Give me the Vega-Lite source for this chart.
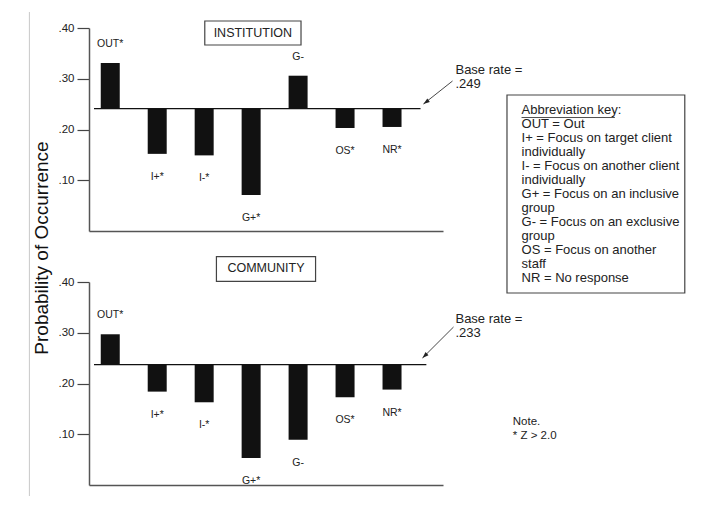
{
  "$schema": "https://vega.github.io/schema/vega-lite/v6.json",
  "padding": {"left": 28, "top": 11, "right": 2, "bottom": 2},
  "bounds": "flush",
  "spacing": 51,
  "config": {
    "font": "Liberation Sans",
    "view": {"stroke": null},
    "axis": {"grid": false},
    "text": {"color": "#222"}
  },
  "datasets": {
    "bars": [
      {"setting": "INSTITUTION", "order": 1, "label": "OUT*", "value": 0.331, "base": 0.241},
      {"setting": "INSTITUTION", "order": 2, "label": "I+*", "value": 0.152, "base": 0.241},
      {"setting": "INSTITUTION", "order": 3, "label": "I-*", "value": 0.149, "base": 0.241},
      {"setting": "INSTITUTION", "order": 4, "label": "G+*", "value": 0.071, "base": 0.241},
      {"setting": "INSTITUTION", "order": 5, "label": "G-", "value": 0.306, "base": 0.241},
      {"setting": "INSTITUTION", "order": 6, "label": "OS*", "value": 0.203, "base": 0.241},
      {"setting": "INSTITUTION", "order": 7, "label": "NR*", "value": 0.205, "base": 0.241},
      {"setting": "COMMUNITY", "order": 1, "label": "OUT*", "value": 0.297, "base": 0.237},
      {"setting": "COMMUNITY", "order": 2, "label": "I+*", "value": 0.184, "base": 0.237},
      {"setting": "COMMUNITY", "order": 3, "label": "I-*", "value": 0.163, "base": 0.237},
      {"setting": "COMMUNITY", "order": 4, "label": "G+*", "value": 0.053, "base": 0.237},
      {"setting": "COMMUNITY", "order": 5, "label": "G-", "value": 0.089, "base": 0.237},
      {"setting": "COMMUNITY", "order": 6, "label": "OS*", "value": 0.173, "base": 0.237},
      {"setting": "COMMUNITY", "order": 7, "label": "NR*", "value": 0.188, "base": 0.237}
    ],
    "baselines": [
      {"setting": "INSTITUTION", "rate": 0.241, "note": "Base rate =\n.249"},
      {"setting": "COMMUNITY", "rate": 0.237, "note": "Base rate =\n.233"}
    ]
  },
  "vconcat": [
    {
      "width": 354,
      "height": 203,
      "layer": [
        {
          "data": {"name": "bars"},
          "transform": [{"filter": "datum.setting === 'INSTITUTION'"}],
          "mark": {"type": "bar", "width": 19, "color": "#111"},
          "encoding": {
            "x": {"field": "order", "type": "quantitative",
              "scale": {"domain": [0.654, 7.979], "nice": false, "zero": false},
              "axis": {"title": null, "ticks": false, "labels": false, "domain": true, "domainColor": "#555", "domainWidth": 1.5}},
            "y": {"field": "value", "type": "quantitative",
              "scale": {"domain": [0, 0.4], "nice": false, "zero": false},
              "axis": {"title": null, "values": [0.1, 0.2, 0.3, 0.4], "format": ".2f", "labelExpr": "replace(datum.label, '0.', '.')",
                "tickSize": 12, "tickColor": "#444", "tickWidth": 1.2, "domainColor": "#555", "domainWidth": 1.5,
                "labelFontSize": 11.5, "labelColor": "#222", "labelPadding": 3}},
            "y2": {"field": "base"}
          }
        },
        {
          "data": {"name": "bars"},
          "transform": [{"filter": "datum.setting === 'INSTITUTION' && datum.value > datum.base"}],
          "mark": {"type": "text", "dy": -19, "fontSize": 10.5, "baseline": "middle"},
          "encoding": {
            "x": {"field": "order", "type": "quantitative"},
            "y": {"field": "value", "type": "quantitative"},
            "text": {"field": "label"}
          }
        },
        {
          "data": {"name": "bars"},
          "transform": [{"filter": "datum.setting === 'INSTITUTION' && datum.value < datum.base"}],
          "mark": {"type": "text", "dy": 23, "fontSize": 10.5, "baseline": "middle"},
          "encoding": {
            "x": {"field": "order", "type": "quantitative"},
            "y": {"field": "value", "type": "quantitative"},
            "text": {"field": "label"}
          }
        },
        {
          "data": {"name": "baselines"},
          "transform": [{"filter": "datum.setting === 'INSTITUTION'"}],
          "mark": {"type": "rule", "color": "#111", "strokeWidth": 1.2},
          "encoding": {
            "x": {"datum": 0.654},
            "x2": {"datum": 7.607},
            "y": {"field": "rate", "type": "quantitative"}
          }
        },
        {
          "data": {"name": "baselines"},
          "transform": [{"filter": "datum.setting === 'INSTITUTION'"}],
          "mark": {"type": "text", "lineBreak": "\n", "fontSize": 13, "lineHeight": 14, "align": "left", "baseline": "alphabetic"},
          "encoding": {
            "x": {"datum": 8.351},
            "y": {"datum": 0.3094},
            "text": {"field": "note"}
          }
        },
        {
          "data": {"values": [{}]},
          "mark": {"type": "rule", "color": "#333", "strokeWidth": 0.9},
          "encoding": {
            "x": {"datum": 8.289}, "y": {"datum": 0.2956},
            "x2": {"datum": 7.669}, "y2": {"datum": 0.2502}
          }
        },
        {
          "data": {"values": [{}]},
          "mark": {"type": "point", "shape": "M0,0L-0.6,1.8L0.6,1.8Z", "filled": true, "size": 50, "angle": 234, "color": "#222", "opacity": 1},
          "encoding": {"x": {"datum": 7.669}, "y": {"datum": 0.2502}}
        },
        {
          "data": {"values": [{}]},
          "mark": {"type": "rect", "fill": "white", "stroke": "#444", "strokeWidth": 1.2},
          "encoding": {
            "x": {"datum": 3.013}, "x2": {"datum": 5.062},
            "y": {"datum": 0.4138}, "y2": {"datum": 0.3665}
          }
        },
        {
          "data": {"values": [{}]},
          "mark": {"type": "text", "text": "INSTITUTION", "fontSize": 12.5, "baseline": "middle", "align": "center"},
          "encoding": {"x": {"datum": 4.037}, "y": {"datum": 0.39}}
        },
        {
          "data": {"values": [{}]},
          "mark": {"type": "rule", "color": "#c8c8c8", "strokeWidth": 1},
          "encoding": {"x": {"datum": -0.722}, "y": {"datum": 0.4315}, "y2": {"datum": -0.5222}}
        },
        {
          "data": {"values": [{}]},
          "mark": {"type": "text", "text": "Probability of Occurrence", "fontSize": 19, "angle": 270, "align": "center", "baseline": "middle", "color": "#111"},
          "encoding": {"x": {"datum": -0.463}, "y": {"datum": -0.0335}}
        },
        {
          "data": {"values": [{}]},
          "mark": {"type": "rect", "fill": "white", "stroke": "#444", "strokeWidth": 1.2},
          "encoding": {
            "x": {"datum": 9.448}, "x2": {"datum": 13.234},
            "y": {"datum": 0.268}, "y2": {"datum": -0.1222}
          }
        },
        {
          "data": {"values": [{}]},
          "mark": {"type": "text", "text": "Abbreviation key:\nOUT = Out\nI+ = Focus on target client\nindividually\nI- = Focus on another client\nindividually\nG+ = Focus on an inclusive\ngroup\nG- = Focus on an exclusive\ngroup\nOS = Focus on another\nstaff\nNR = No response",
            "lineBreak": "\n", "fontSize": 13, "lineHeight": 14, "align": "left", "baseline": "alphabetic"},
          "encoding": {"x": {"datum": 9.758}, "y": {"datum": 0.2296}}
        },
        {
          "data": {"values": [{}]},
          "mark": {"type": "rule", "color": "#222", "strokeWidth": 0.8},
          "encoding": {"x": {"datum": 9.758}, "x2": {"datum": 11.745}, "y": {"datum": 0.2236}}
        }
      ]
    },
    {
      "width": 354,
      "height": 203,
      "layer": [
        {
          "data": {"name": "bars"},
          "transform": [{"filter": "datum.setting === 'COMMUNITY'"}],
          "mark": {"type": "bar", "width": 19, "color": "#111"},
          "encoding": {
            "x": {"field": "order", "type": "quantitative",
              "scale": {"domain": [0.654, 7.979], "nice": false, "zero": false},
              "axis": {"title": null, "ticks": false, "labels": false, "domain": true, "domainColor": "#555", "domainWidth": 1.5}},
            "y": {"field": "value", "type": "quantitative",
              "scale": {"domain": [0, 0.4], "nice": false, "zero": false},
              "axis": {"title": null, "values": [0.1, 0.2, 0.3, 0.4], "format": ".2f", "labelExpr": "replace(datum.label, '0.', '.')",
                "tickSize": 12, "tickColor": "#444", "tickWidth": 1.2, "domainColor": "#555", "domainWidth": 1.5,
                "labelFontSize": 11.5, "labelColor": "#222", "labelPadding": 3}},
            "y2": {"field": "base"}
          }
        },
        {
          "data": {"name": "bars"},
          "transform": [{"filter": "datum.setting === 'COMMUNITY' && datum.value > datum.base"}],
          "mark": {"type": "text", "dy": -19, "fontSize": 10.5, "baseline": "middle"},
          "encoding": {
            "x": {"field": "order", "type": "quantitative"},
            "y": {"field": "value", "type": "quantitative"},
            "text": {"field": "label"}
          }
        },
        {
          "data": {"name": "bars"},
          "transform": [{"filter": "datum.setting === 'COMMUNITY' && datum.value < datum.base"}],
          "mark": {"type": "text", "dy": 23, "fontSize": 10.5, "baseline": "middle"},
          "encoding": {
            "x": {"field": "order", "type": "quantitative"},
            "y": {"field": "value", "type": "quantitative"},
            "text": {"field": "label"}
          }
        },
        {
          "data": {"name": "baselines"},
          "transform": [{"filter": "datum.setting === 'COMMUNITY'"}],
          "mark": {"type": "rule", "color": "#111", "strokeWidth": 1.2},
          "encoding": {
            "x": {"datum": 0.654},
            "x2": {"datum": 7.731},
            "y": {"field": "rate", "type": "quantitative"}
          }
        },
        {
          "data": {"name": "baselines"},
          "transform": [{"filter": "datum.setting === 'COMMUNITY'"}],
          "mark": {"type": "text", "lineBreak": "\n", "fontSize": 13, "lineHeight": 14, "align": "left", "baseline": "alphabetic"},
          "encoding": {
            "x": {"datum": 8.351},
            "y": {"datum": 0.3187},
            "text": {"field": "note"}
          }
        },
        {
          "data": {"values": [{}]},
          "mark": {"type": "rule", "color": "#333", "strokeWidth": 0.9},
          "encoding": {
            "x": {"datum": 8.31}, "y": {"datum": 0.3113},
            "x2": {"datum": 7.648}, "y2": {"datum": 0.2502}
          }
        },
        {
          "data": {"values": [{}]},
          "mark": {"type": "point", "shape": "M0,0L-0.6,1.8L0.6,1.8Z", "filled": true, "size": 50, "angle": 226, "color": "#222", "opacity": 1},
          "encoding": {"x": {"datum": 7.648}, "y": {"datum": 0.2502}}
        },
        {
          "data": {"values": [{}]},
          "mark": {"type": "rect", "fill": "white", "stroke": "#444", "strokeWidth": 1.2},
          "encoding": {
            "x": {"datum": 3.261}, "x2": {"datum": 5.372},
            "y": {"datum": 0.4499}, "y2": {"datum": 0.4014}
          }
        },
        {
          "data": {"values": [{}]},
          "mark": {"type": "text", "text": "COMMUNITY", "fontSize": 12.5, "baseline": "middle", "align": "center"},
          "encoding": {"x": {"datum": 4.316}, "y": {"datum": 0.4282}}
        },
        {
          "data": {"values": [{}]},
          "mark": {"type": "text", "text": "Note.\n* Z > 2.0", "lineBreak": "\n", "fontSize": 11.5, "lineHeight": 13.5, "align": "left", "baseline": "alphabetic"},
          "encoding": {"x": {"datum": 9.572}, "y": {"datum": 0.1182}}
        }
      ]
    }
  ]
}
